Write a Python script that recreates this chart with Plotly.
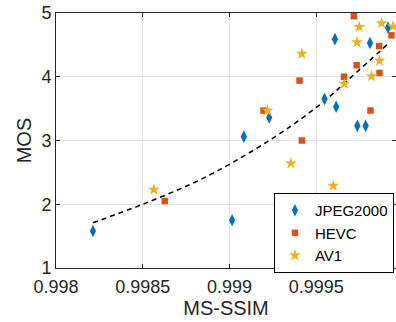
import plotly.graph_objects as go

# JPEG2000
jpeg_x = [0.998213, 0.999015, 0.999083, 0.999229, 0.999548, 0.999608, 0.999615, 0.999737, 0.999785, 0.99981, 0.999914]
jpeg_y = [1.58, 1.75, 3.06, 3.36, 3.65, 4.59, 3.53, 3.23, 3.23, 4.53, 4.77]
# HEVC
hevc_x = [0.998627, 0.999196, 0.999404, 0.999417, 0.99966, 0.999717, 0.999733, 0.999813, 0.999863, 0.999865, 0.999934]
hevc_y = [2.05, 3.47, 3.94, 3.00, 4.00, 4.95, 4.18, 3.47, 4.48, 4.06, 4.65]
# AV1
av1_x = [0.998564, 0.999219, 0.999417, 0.999354, 0.999598, 0.999662, 0.999735, 0.999748, 0.999819, 0.999865, 0.999877, 0.999943]
av1_y = [2.23, 3.47, 4.36, 2.64, 2.29, 3.89, 4.54, 4.78, 4.01, 4.25, 4.84, 4.79]
# fitted curve
fit_x = [0.998213, 0.9985, 0.99885, 0.999235, 0.99952, 0.99970, 0.99992]
fit_y = [1.71, 2.00, 2.41, 3.01, 3.56, 3.99, 4.53]

x_ticks = [0.998, 0.9985, 0.999, 0.9995]
x_ticktext = ["0.998", "0.9985", "0.999", "0.9995"]
y_ticks = [1, 2, 3, 4, 5]

FONT = "Liberation Sans, Arial, sans-serif"
TXT = "#262626"

fig = go.Figure()
fig.add_trace(go.Scatter(x=fit_x, y=fit_y, mode="lines", showlegend=False,
                         line=dict(color="black", width=1.6, dash="5px,4px", shape="spline")))
fig.add_trace(go.Scatter(x=jpeg_x, y=jpeg_y, mode="markers", name="JPEG2000",
                         marker=dict(symbol="diamond-tall", size=9, color="#0072BD")))
fig.add_trace(go.Scatter(x=hevc_x, y=hevc_y, mode="markers", name="HEVC",
                         marker=dict(symbol="square", size=6.5, color="#D95319")))
fig.add_trace(go.Scatter(x=av1_x, y=av1_y, mode="markers", name="AV1",
                         marker=dict(symbol="star", size=9, color="#EDB120")))

fig.update_layout(
    width=396, height=322,
    margin=dict(l=56, r=0, t=13, b=54, autoexpand=False),
    paper_bgcolor="white", plot_bgcolor="white",
    font=dict(family=FONT, color=TXT, size=18),
    legend=dict(x=0.641, y=0.294, xanchor="left", yanchor="top",
                bgcolor="white", bordercolor="black", borderwidth=1,
                font=dict(size=15, color="black"), tracegroupgap=0,
                itemwidth=30),
    xaxis=dict(range=[0.998, 0.99996], tickvals=x_ticks, ticktext=x_ticktext,
               showgrid=True, gridcolor="#e3e3e3", gridwidth=1, automargin=False,
               showline=True, linecolor="#262626", linewidth=1, mirror="ticks",
               ticks="inside", ticklen=4, tickcolor="#262626", zeroline=False,
               ticklabelstandoff=2,
               title=dict(text="MS-SSIM", font=dict(size=20), standoff=3)),
    yaxis=dict(range=[1, 5], tickvals=y_ticks, automargin=False,
               showgrid=True, gridcolor="#e3e3e3", gridwidth=1,
               showline=True, linecolor="#262626", linewidth=1, mirror="ticks",
               ticks="inside", ticklen=4, tickcolor="#262626", zeroline=False,
               title=dict(text="MOS", font=dict(size=20), standoff=4)),
)

fig.write_html("out.html", config={"displayModeBar": False, "staticPlot": True},
               post_script="document.body.style.margin='0';document.body.style.overflow='hidden';")
